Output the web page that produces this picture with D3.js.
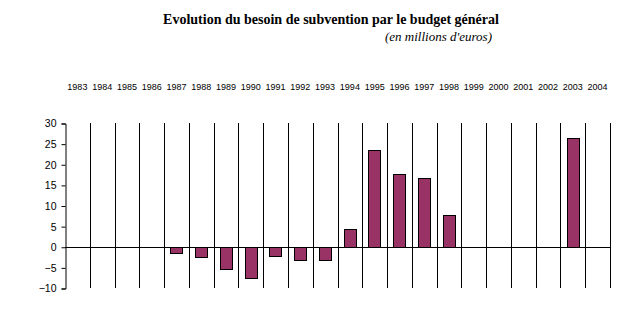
<!DOCTYPE html>
<html>
<head>
<meta charset="utf-8">
<script src="https://cdn.jsdelivr.net/npm/d3@7"></script>
<style>
  body { margin: 0; background: #fff; }
  svg { display: block; }
  .title { font-family: "Liberation Serif", "Times New Roman", serif; font-weight: bold; font-size: 14px; }
  .subtitle { font-family: "Liberation Serif", "Times New Roman", serif; font-style: italic; font-size: 13px; }
  .year { font-family: "Liberation Sans", Arial, sans-serif; font-size: 9px; }
  .yaxis text { font-family: "Liberation Sans", Arial, sans-serif; font-size: 10.5px; fill: #000; }
</style>
</head>
<body>
<div id="plot"></div>
<script>
const years = ["1983","1984","1985","1986","1987","1988","1989","1990","1991","1992","1993",
               "1994","1995","1996","1997","1998","1999","2000","2001","2002","2003","2004"];
// null = pas de valeur
const values = [null, null, null, null, -1.5, -2.4, -5.3, -7.5, -2.2, -3.2, -3.2,
                4.4, 23.5, 17.7, 16.7, 7.8, null, null, null, null, 26.4, null];
const yTicks = [-10, -5, 0, 5, 10, 15, 20, 25, 30];

const W = 627, H = 328;
const mLeft = 65, mRight = 610, mTop = 123, mBottom = 288;

const svg = d3.select("#plot").append("svg")
  .attr("width", W)
  .attr("height", H);

svg.append("text")
  .attr("class", "title")
  .attr("x", 331).attr("y", 24)
  .attr("text-anchor", "middle")
  .text("Evolution du besoin de subvention par le budget général");

svg.append("text")
  .attr("class", "subtitle")
  .attr("x", 492).attr("y", 41)
  .attr("text-anchor", "end")
  .text("(en millions d'euros)");

const x = d3.scaleBand().domain(years).range([mLeft, mRight]).paddingInner(0);
const y = d3.scaleLinear().domain([-10, 30]).range([mBottom, mTop]);

// etiquettes des années en haut
svg.selectAll(".year")
  .data(years)
  .enter().append("text")
  .attr("class", "year")
  .attr("x", d => x(d) + x.bandwidth() / 2)
  .attr("y", 90)
  .attr("text-anchor", "middle")
  .text(d => d);

// lignes verticales entre les catégories
svg.selectAll(".sep")
  .data(years)
  .enter().append("line")
  .attr("class", "sep")
  .attr("x1", d => Math.round(x(d) + x.bandwidth()) + 0.5)
  .attr("x2", d => Math.round(x(d) + x.bandwidth()) + 0.5)
  .attr("y1", mTop)
  .attr("y2", mBottom)
  .attr("stroke", "#000")
  .attr("stroke-width", 1);

// axe Y
const yAxis = svg.append("g")
  .attr("class", "yaxis")
  .attr("transform", "translate(" + (mLeft + 0.5) + ",0.5)")
  .call(d3.axisLeft(y).tickValues(yTicks).tickSize(4).tickPadding(5));
yAxis.select(".domain").attr("stroke", "#000");
yAxis.selectAll(".tick line").attr("stroke", "#000");

// barres
const bw = x.bandwidth() * 0.5;
svg.selectAll(".bar")
  .data(years.map((d, i) => ({ year: d, value: values[i] })).filter(d => d.value !== null))
  .enter().append("rect")
  .attr("class", "bar")
  .attr("x", d => Math.round(x(d.year) + (x.bandwidth() - bw) / 2) + 0.5)
  .attr("y", d => Math.round(y(Math.max(0, d.value))) + 0.5)
  .attr("width", Math.round(bw))
  .attr("height", d => Math.round(Math.abs(y(d.value) - y(0))))
  .attr("fill", "#993366")
  .attr("stroke", "#000")
  .attr("stroke-width", 1);

// ligne du zéro
svg.append("line")
  .attr("x1", mLeft).attr("x2", mRight + 1)
  .attr("y1", Math.round(y(0)) + 0.5).attr("y2", Math.round(y(0)) + 0.5)
  .attr("stroke", "#000");
</script>
</body>
</html>
